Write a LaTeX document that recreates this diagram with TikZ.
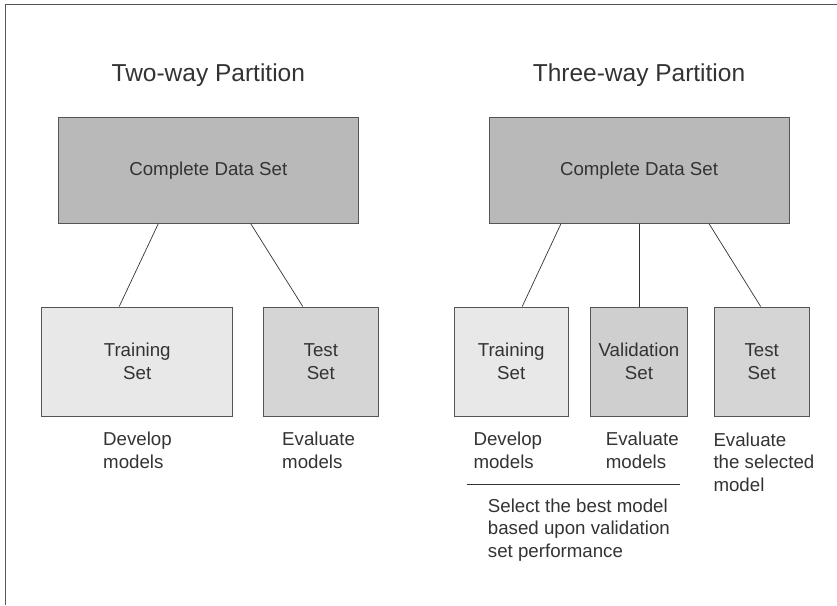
\documentclass[tikz,border=0pt]{standalone}
\usepackage{fontspec}
\setmainfont{Liberation Sans}
\usepackage{tikz}
\definecolor{ink}{HTML}{333333}
\definecolor{edge}{HTML}{555555}
\definecolor{wholefill}{HTML}{B9B9B9}
\definecolor{trainfill}{HTML}{E8E8E8}
\definecolor{testfill}{HTML}{D5D5D5}
\definecolor{validfill}{HTML}{CFCFCF}
\newcommand\TitleFont{\fontsize{24.5}{29}\selectfont}
\newcommand\BodyFont{\fontsize{18.7}{22.5}\selectfont}
\tikzset{
    setbox/.style={draw=edge,line width=0.9pt,text=ink,align=center,inner sep=0pt,font=\BodyFont},
    title/.style={anchor=base,text=ink,inner sep=0pt,font=\TitleFont},
    note/.style={anchor=base west,align=left,text=ink,inner sep=0pt,font=\BodyFont},
    link/.style={draw=ink,line width=0.7pt}
}

\begin{document}
\begin{tikzpicture}[x=1pt,y=-1pt]
    \useasboundingbox (0,0) rectangle (837,605);
    \draw[edge,line width=1pt] (5,605) -- (5,4) -- (837,4);
    \begin{scope} % Two-way
        \node[title] (title2) at (208.3,81) {Two-way Partition};
        \node[setbox,fill=wholefill,minimum width=300,minimum height=106] (whole2) at (208.3,170.2) {Complete Data Set};
        \node[setbox,fill=trainfill,minimum width=191,minimum height=109] (train2) at (137.2,361.5) {Training\\Set};
        \node[setbox,fill=testfill,minimum width=115,minimum height=109] (test2) at (320.8,361.5) {Test\\Set};
        \draw[link] ([xshift=-50pt]whole2.south) -- ([xshift=-18pt]train2.north);
        \draw[link] ([xshift=42.4pt]whole2.south) -- ([xshift=-18pt]test2.north);
        % base is the last line
        \node[note] (dev2) at (103,468) {Develop\\models};
        \node[note] (eval2) at (282,468) {Evaluate\\models};
    \end{scope}
    \begin{scope} % Three-way
        \node[title] (title3) at (639,81) {Three-way Partition};
        \node[setbox,fill=wholefill,minimum width=300,minimum height=106] (whole3) at (639,170.2) {Complete Data Set};
        \node[setbox,fill=trainfill,minimum width=114.3,minimum height=109] (train3) at (511.2,361.5) {Training\\Set};
        \node[setbox,fill=validfill,minimum width=96.6,minimum height=109] (valid3) at (639,361.5) {Validation\\Set};
        \node[setbox,fill=testfill,minimum width=95.3,minimum height=109] (test3) at (761.7,361.5) {Test\\Set};
        \draw[link] ([xshift=-78pt]whole3.south) -- ([xshift=11pt]train3.north);
        \draw[link] (whole3.south) -- (valid3.north);
        \draw[link] ([xshift=70pt]whole3.south) -- ([xshift=-1pt]test3.north);
        \node[note] (dev3) at (473.3,468) {Develop\\models};
        \node[note] (eval3) at (605.7,468) {Evaluate\\models};
        \node[note] (final3) at (713.3,491) {Evaluate\\the selected\\model};
        \draw[link] (466.7,484) -- (680,484);
        \node[note] (pick3) at (487.7,557) {Select the best model\\based upon validation\\set performance};
    \end{scope}
\end{tikzpicture}
\end{document}
